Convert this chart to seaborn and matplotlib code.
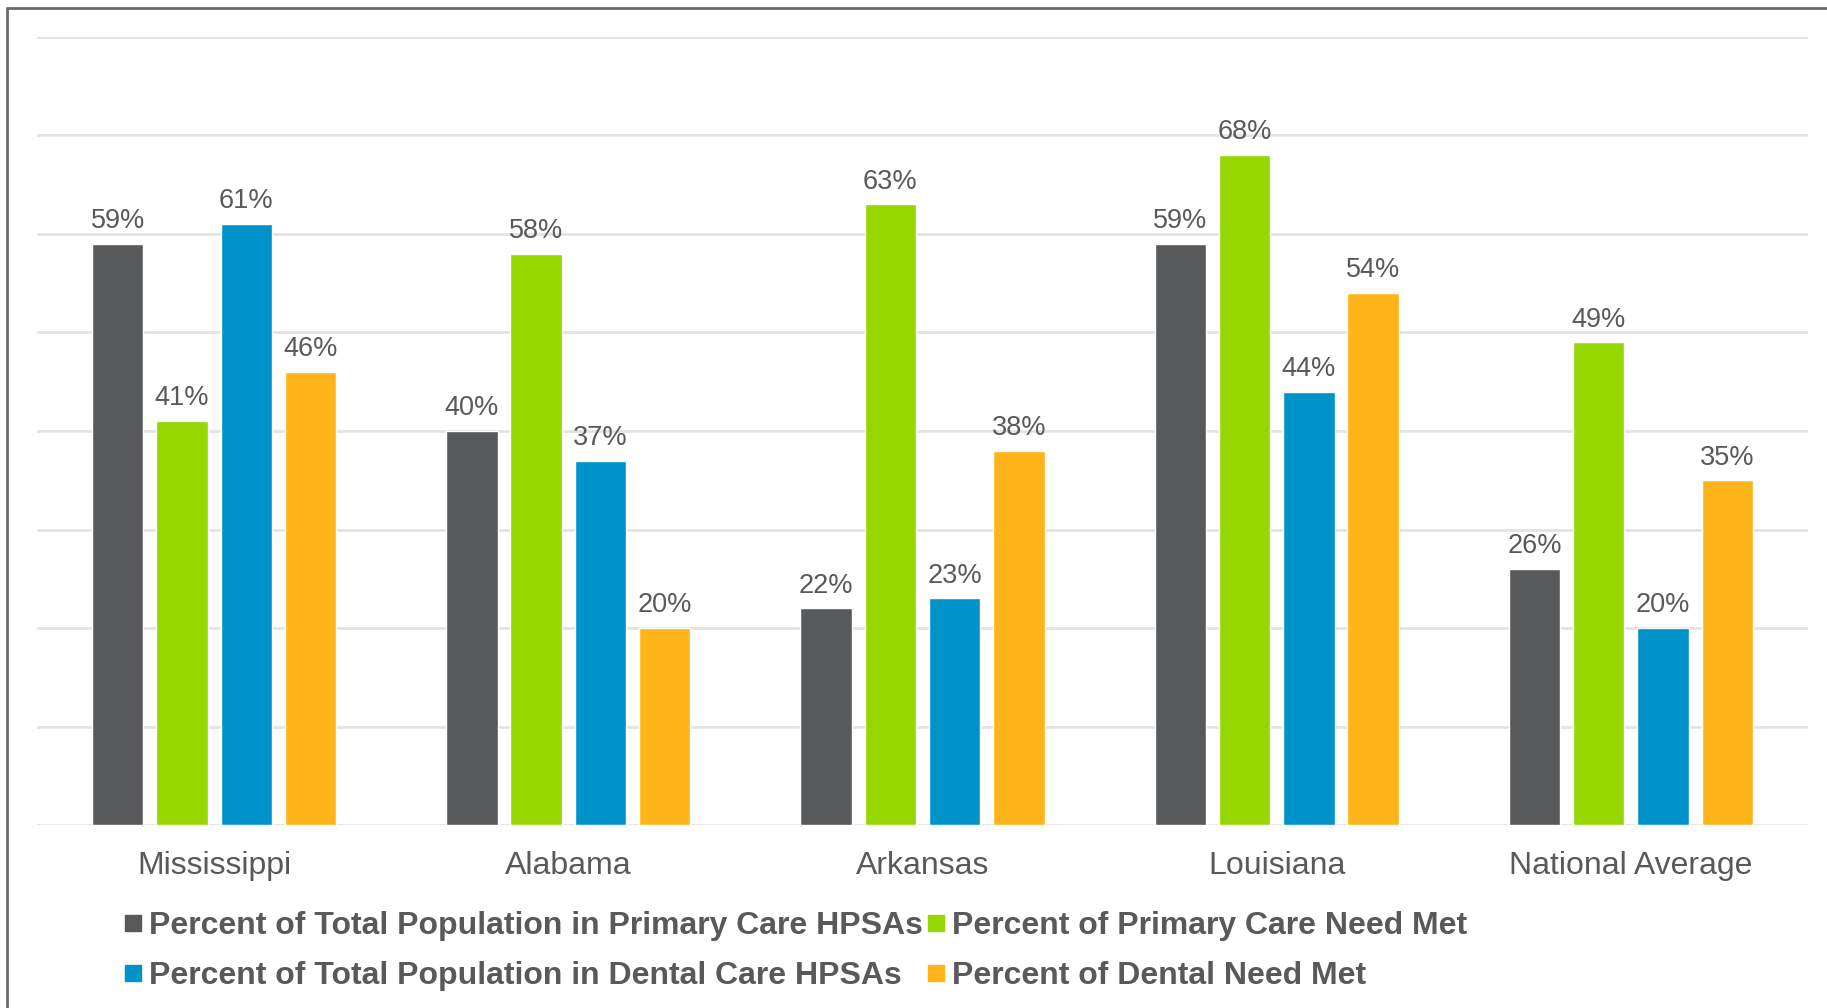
import matplotlib
matplotlib.use("Agg")
import matplotlib.pyplot as plt
from matplotlib.lines import Line2D
import seaborn as sns
import pandas as pd

regions = ["Mississippi", "Alabama", "Arkansas", "Louisiana", "National Average"]
series_names = [
    "Percent of Total Population in Primary Care HPSAs",
    "Percent of Primary Care Need Met",
    "Percent of Total Population in Dental Care HPSAs",
    "Percent of Dental Need Met",
]
primary_hpsa = [59, 40, 22, 59, 26]
primary_met = [41, 58, 63, 68, 49]
dental_hpsa = [61, 37, 23, 44, 20]
dental_met = [46, 20, 38, 54, 35]
series_colors = ["#58595B", "#97D700", "#0093C9", "#FFB519"]

rows = []
for name, vals in zip(series_names, [primary_hpsa, primary_met, dental_hpsa, dental_met]):
    for reg, v in zip(regions, vals):
        rows.append({"Region": reg, "Series": name, "Value": v})
df = pd.DataFrame(rows)

sns.set_theme(style="white")
plt.rcParams["font.family"] = ["Liberation Sans", "DejaVu Sans"]
text_color = "#595959"

fig = plt.figure(figsize=(18.27, 10.08), dpi=100)
ax = fig.add_axes([37 / 1827, 1 - 825 / 1008, 1771 / 1827, 788 / 1008])

sns.barplot(
    data=df, x="Region", y="Value", hue="Series",
    order=regions, hue_order=series_names,
    palette=series_colors, width=0.726, gap=0.2,
    saturation=1, ax=ax, legend=False,
)

for cont in ax.containers:
    ax.bar_label(cont, fmt="%.0f%%", padding=7, fontsize=19.5, color=text_color)

ax.set_ylim(0, 80)
ax.set_xlim(-0.5, len(regions) - 0.5)
ax.set_yticks(range(0, 81, 10))
ax.set_yticklabels([])
ax.yaxis.grid(True, color="#E3E3E3", linewidth=2)
ax.set_axisbelow(True)
for s in ax.spines.values():
    s.set_visible(False)
ax.tick_params(axis="x", length=0, pad=19, labelsize=23, labelcolor=text_color)
ax.tick_params(axis="y", length=0)
ax.set_xlabel("")
ax.set_ylabel("")

# legend: two rows, two columns, filled row by row
handles = [Line2D([], [], marker="s", linestyle="none", markersize=11,
                  markerfacecolor=c, markeredgecolor=c) for c in series_colors]
order = [0, 2, 1, 3]
leg = fig.legend(
    [handles[i] for i in order], [series_names[i] for i in order],
    ncol=2, loc="upper left", bbox_to_anchor=(125 / 1827, 1 - 911 / 1008),
    frameon=False, handlelength=0.5, handletextpad=0.25, columnspacing=0.15,
    labelspacing=0.62, borderaxespad=0, borderpad=0,
    prop={"weight": "bold", "size": 23.0},
)
for t in leg.get_texts():
    t.set_color(text_color)

# outer frame
fig.add_artist(Line2D([7 / 1827, 7 / 1827], [0, 1 - 8 / 1008],
                      transform=fig.transFigure, color="#6B6B6B", linewidth=2))
fig.add_artist(Line2D([7 / 1827, 1], [1 - 8 / 1008, 1 - 8 / 1008],
                      transform=fig.transFigure, color="#6B6B6B", linewidth=2))

fig.savefig("out.png", dpi=100, facecolor="white")
